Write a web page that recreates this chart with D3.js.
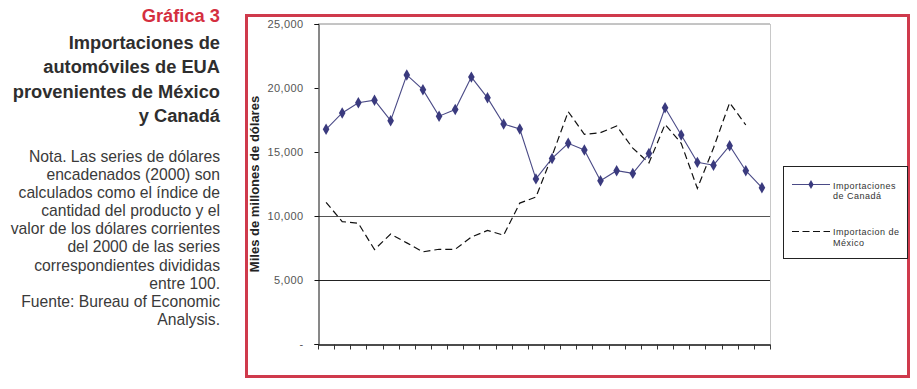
<!DOCTYPE html>
<html>
<head>
<meta charset="utf-8">
<script src="https://cdn.jsdelivr.net/npm/d3@7"></script>
<style>
  html, body { margin: 0; padding: 0; background: #fff; }
  svg { display: block; }
</style>
</head>
<body>
<svg id="chart" width="917" height="389"></svg>
<script>
// ---- data ----
const categories = [1,2,3,4,5,6,7,8,9,10,11,12,13,14,15,16,17,18,19,20,21,22,23,24,25,26,27,28];
const canada = [16770,18050,18850,19050,17450,21020,19870,17800,18320,20850,19230,17180,16800,12900,
                14500,15680,15160,12750,13540,13330,14880,18460,16330,14190,13970,15490,13540,12210];
const mexico = [11070,9560,9430,7380,8590,7900,7200,7400,7400,8360,8870,8500,11010,11480,
                14700,18150,16380,16510,17030,15300,14150,17160,15680,12160,15310,18850,17110,null];
const yTickValues = [0,5000,10000,15000,20000,25000];
const yTickLabels = ["-","5,000","10,000","15,000","20,000","25,000"];
const gridValues = [5000,10000];
const seriesNames = ["Importaciones de Canadá","Importacion de México"];
const titleLines = ["Importaciones de","automóviles de EUA","provenientes de México","y Canadá"];
const noteLines = ["Nota. Las series de dólares","encadenados (2000) son","calculados como el índice de",
  "cantidad del producto y el","valor de los dólares corrientes","del 2000 de las series",
  "correspondientes divididas","entre 100.","Fuente: Bureau of Economic","Analysis."];

const svg = d3.select("#chart");
const FONT = "'Liberation Sans', Arial, Helvetica, sans-serif";

// ---- left text block ----
svg.append("text").attr("x",220).attr("y",21.5).attr("text-anchor","end")
  .attr("font-family",FONT).attr("font-weight","bold").attr("font-size",18.3)
  .attr("fill","#d42f3f").text("Gráfica 3");
const titleY = [49,73,97.5,122];
titleLines.forEach((t,i)=>{
  svg.append("text").attr("x",220).attr("y",titleY[i]).attr("text-anchor","end")
    .attr("font-family",FONT).attr("font-weight","bold").attr("font-size",18.3)
    .attr("fill","#2e2e2e").text(t);
});
noteLines.forEach((t,i)=>{
  svg.append("text").attr("x",220).attr("y",161.7 + i*18.15).attr("text-anchor","end")
    .attr("font-family",FONT).attr("font-size",15.7)
    .attr("fill","#3a3a3a").text(t);
});

// ---- frame ----
svg.append("rect").attr("x",246.5).attr("y",15.5).attr("width",662).attr("height",361)
  .attr("fill","none").attr("stroke","#cf3a4c").attr("stroke-width",3);

// ---- scales ----
const x0 = 318, x1 = 770, yTop = 24, yBot = 344;
const x = d3.scaleBand().domain(categories).range([x0,x1]);
const y = d3.scaleLinear().domain([0,25000]).range([yBot,yTop]);
const cx = d => x(d) + x.bandwidth()/2;

// plot area borders
svg.append("line").attr("x1",x0).attr("x2",x1).attr("y1",y(25000)).attr("y2",y(25000))
  .attr("stroke","#8a8a8a").attr("stroke-width",1);
svg.append("line").attr("x1",x1+0.5).attr("x2",x1+0.5).attr("y1",yTop).attr("y2",yBot)
  .attr("stroke","#c8c8c8").attr("stroke-width",1);

// gridlines
svg.selectAll("line.grid").data(gridValues).enter().append("line")
  .attr("class","grid")
  .attr("x1",x0).attr("x2",x1)
  .attr("y1",d=>Math.round(y(d))+0.5).attr("y2",d=>Math.round(y(d))+0.5)
  .attr("stroke",(d)=> d===10000 ? "#555" : "#222").attr("stroke-width",1.2);

// y axis
const yAxis = d3.axisLeft(y).tickValues(yTickValues).tickSize(4).tickPadding(11)
  .tickFormat((d,i)=>yTickLabels[i]);
const gy = svg.append("g").attr("transform",`translate(${x0+0.5},0)`).call(yAxis);
gy.select(".domain").attr("stroke","#111");
gy.selectAll(".tick line").attr("stroke","#111");
gy.selectAll(".tick text").attr("font-family",FONT).attr("font-size",11)
  .attr("letter-spacing","0.4px").attr("fill","#555");

// x axis (ticks between categories)
const xAxis = d3.axisBottom(x).tickSize(0).tickFormat("");
const gx = svg.append("g").attr("transform",`translate(0,${yBot+0.5})`).call(xAxis);
gx.select(".domain").attr("stroke","#111").attr("stroke-width",1.3);
const boundaries = categories.map(c=>x(c)).concat([x1]);
gx.selectAll("line.btick").data(boundaries).enter().append("line").attr("class","btick")
  .attr("x1",d=>Math.round(d)+0.5).attr("x2",d=>Math.round(d)+0.5).attr("y1",0).attr("y2",5)
  .attr("stroke","#333").attr("stroke-width",1);

// y axis title
svg.append("text").attr("transform",`translate(259,${(yTop+yBot)/2}) rotate(-90)`)
  .attr("text-anchor","middle").attr("font-family",FONT).attr("font-weight","bold")
  .attr("font-size",13).attr("fill","#222").text("Miles de millones de dólares");

// ---- series ----
const lineGen = d3.line().defined(d=>d.v!=null).x(d=>cx(d.c)).y(d=>y(d.v));
const mexData = categories.map((c,i)=>({c, v: mexico[i]}));
const canData = categories.map((c,i)=>({c, v: canada[i]}));

svg.append("path").datum(mexData).attr("d",lineGen).attr("fill","none")
  .attr("stroke","#111").attr("stroke-width",1.2).attr("stroke-dasharray","7,4");

svg.append("path").datum(canData).attr("d",lineGen).attr("fill","none")
  .attr("stroke","#4a4a86").attr("stroke-width",1.1);

const diamond = d3.symbol().type(d3.symbolDiamond).size(38);
svg.selectAll("path.mk").data(canData).enter().append("path").attr("class","mk")
  .attr("d",diamond).attr("transform",d=>`translate(${cx(d.c)},${y(d.v)})`)
  .attr("fill","#3a3a7e");

// ---- legend ----
const lg = svg.append("g");
lg.append("rect").attr("x",783.5).attr("y",166.5).attr("width",124).attr("height",92)
  .attr("fill","#fff").attr("stroke","#222").attr("stroke-width",1);
lg.append("line").attr("x1",792).attr("x2",830).attr("y1",184.5).attr("y2",184.5)
  .attr("stroke","#4a4a86").attr("stroke-width",1.1);
lg.append("path").attr("d",d3.symbol().type(d3.symbolDiamond).size(24))
  .attr("transform","translate(811,184.5)").attr("fill","#3a3a7e");
lg.append("line").attr("x1",792).attr("x2",830).attr("y1",231.5).attr("y2",231.5)
  .attr("stroke","#111").attr("stroke-width",1.2).attr("stroke-dasharray","7,3.5");
const legText = [["Importaciones","de Canadá"],["Importacion de","México"]];
const legY = [188.5, 235];
legText.forEach((lines,i)=>{
  lines.forEach((t,j)=>{
    lg.append("text").attr("x",833).attr("y",legY[i]+j*10.5)
      .attr("font-family",FONT).attr("font-size",9).attr("letter-spacing","0.5px")
      .attr("fill","#333").text(t);
  });
});
</script>
</body>
</html>
